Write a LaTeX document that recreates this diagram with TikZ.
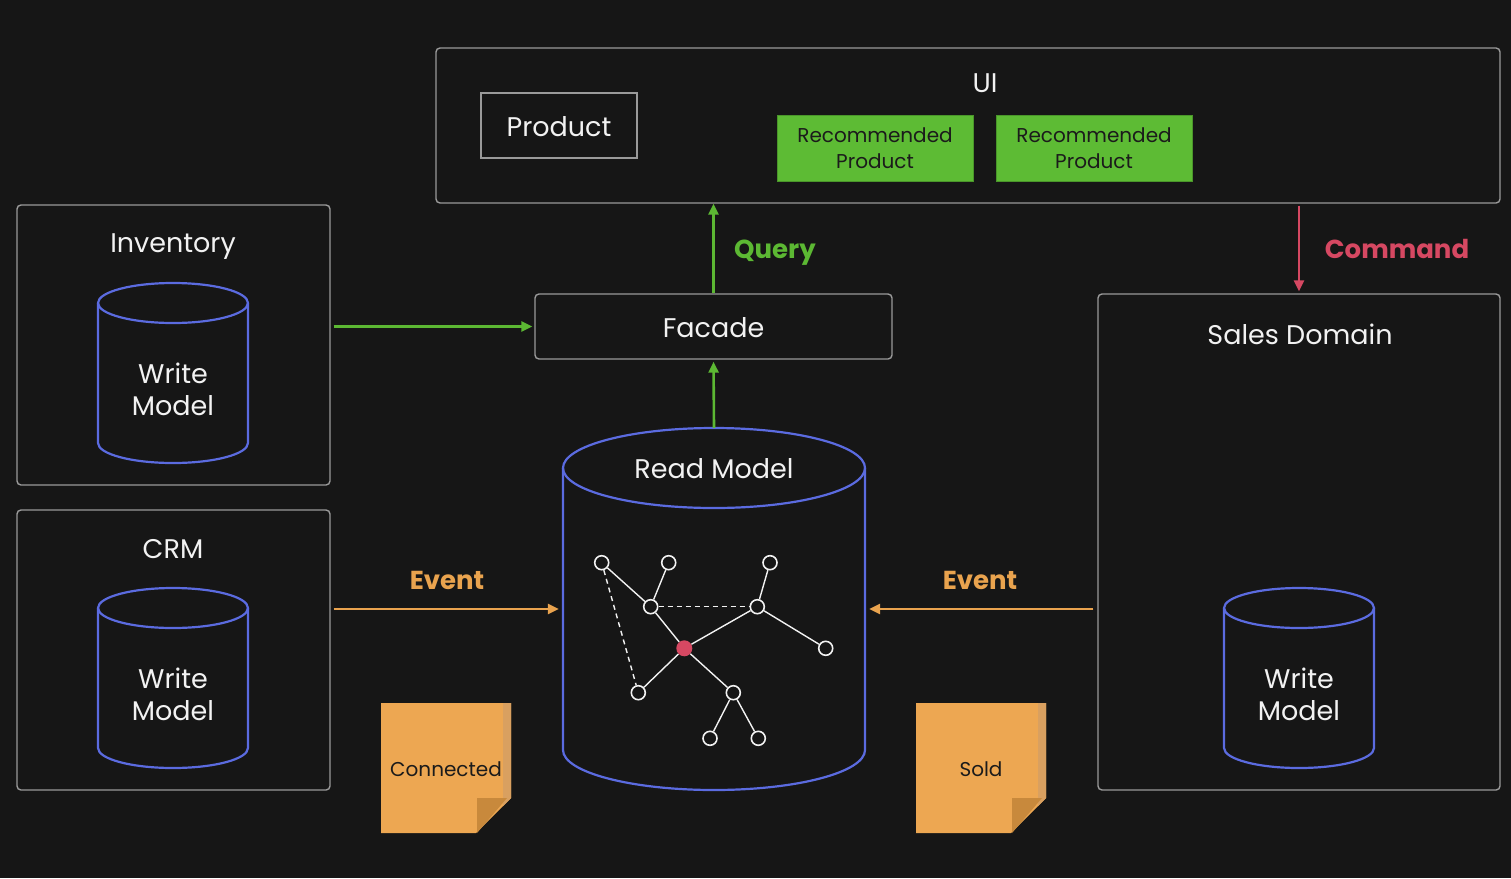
\documentclass[tikz,border=0pt]{standalone}
\usepackage{fontspec}
\setmainfont{Poppins}
\usetikzlibrary{arrows.meta}
\definecolor{bg}{HTML}{161616}
\definecolor{boxline}{HTML}{9A9A9A}
\definecolor{txt}{HTML}{F2F2F2}
\definecolor{cylblue}{HTML}{5B6BE0}
\definecolor{qgreen}{HTML}{5CB833}
\definecolor{rgreen}{HTML}{5DBB34}
\definecolor{cred}{HTML}{D64862}
\definecolor{eorange}{HTML}{E9A34E}
\definecolor{sticky}{HTML}{EDA752}
\definecolor{stickyedge}{HTML}{D9A060}
\definecolor{stickyfold}{HTML}{C8893C}
\definecolor{darktxt}{HTML}{1B1B1B}
\begin{document}
\begin{tikzpicture}[x=1pt,y=-1pt,
  panel/.style={draw=boxline, line width=1.4pt, rounded corners=4pt, inner sep=0pt},
  recbox/.style={fill=rgreen, draw=rgreen!80!black, line width=0.8pt, inner sep=0pt, minimum width=196pt, minimum height=66pt, text=darktxt, align=center, font=\fontsize{20}{26}\selectfont},
  title/.style={text=txt, font=\fontsize{27}{32}\selectfont, align=center, inner sep=0pt},
  cyl/.style={draw=cylblue, line width=2.2pt},
  hidden/.style={inner sep=0pt},
  arr/.style={line width=2.6pt, -{Triangle[length=11pt,width=10pt]}},
  lbl/.style={font=\bfseries\fontsize{26}{32}\selectfont, inner sep=0pt},
  gn/.style={circle, draw=txt, fill=bg, line width=1.6pt, minimum size=14pt, inner sep=0pt},
  ge/.style={draw=txt, line width=1.4pt},
  notetxt/.style={text=darktxt, font=\fontsize{20}{24}\selectfont, inner sep=0pt}
]
\fill[bg] (0,0) rectangle (1511,878);
\useasboundingbox (0,0) rectangle (1511,878);

% UI
\node[panel, minimum width=1064pt, minimum height=155pt] (ui) at (968,125.5) {};
\node[title] (uit) at (985,83) {UI};
\node[panel, rounded corners=0pt, minimum width=156pt, minimum height=65pt] (prod) at (559,125.5) {};
\node[title] (prodt) at (559,127) {Product};
\node[recbox] (rec1) at (875,148) {Recommended\\Product};
\node[recbox] (rec2) at (1094,148) {Recommended\\Product};

% Inventory
\node[panel, minimum width=313pt, minimum height=280pt] (inv) at (173.5,345) {};
\node[title] (invt) at (173,247) {Inventory};
\draw[cyl] (98,303) -- (98,443) arc[start angle=180, end angle=360, x radius=75pt, y radius=20pt] -- (248,303);
\draw[cyl] (173,303) ellipse [x radius=75pt, y radius=20pt];
\node[title] (invw) at (173,389) {Write\\Model};

% CRM
\node[panel, minimum width=313pt, minimum height=280pt] (crm) at (173.5,650) {};
\node[title] (crmt) at (173,549) {CRM};
\draw[cyl] (98,608) -- (98,748) arc[start angle=180, end angle=360, x radius=75pt, y radius=20pt] -- (248,608);
\draw[cyl] (173,608) ellipse [x radius=75pt, y radius=20pt];
\node[title] (crmw) at (173,694) {Write\\Model};

% Facade
\node[panel, minimum width=357pt, minimum height=65pt] (fac) at (713.5,326.5) {};
\node[title] (fact) at (713.5,328) {Facade};

% Sales Domain
\node[panel, minimum width=402pt, minimum height=496pt] (sales) at (1299,542) {};
\node[title] (salest) at (1300,334) {Sales Domain};
\draw[cyl] (1224,608) -- (1224,748) arc[start angle=180, end angle=360, x radius=75pt, y radius=20pt] -- (1374,608);
\draw[cyl] (1299,608) ellipse [x radius=75pt, y radius=20pt];
\node[title] (salesw) at (1299,694) {Write\\Model};

% Read Model
\node[hidden, minimum width=302pt, minimum height=362pt] (rm) at (714,609) {};
\draw[cyl] (563,468) -- (563,750) arc[start angle=180, end angle=360, x radius=151pt, y radius=40pt] -- (865,468);
\draw[cyl] (714,468) ellipse [x radius=151pt, y radius=40pt];
\node[title] (rmt) at (714,469) {Read Model};

% graph
\node[gn] (g1) at (601.7,562.7) {};
\node[gn] (g2) at (668.7,562.7) {};
\node[gn] (g3) at (770,562.7) {};
\node[gn] (g4) at (650.7,606.7) {};
\node[gn] (g5) at (757.3,606.7) {};
\node[circle, fill=cred, minimum size=16pt, inner sep=0pt] (gc) at (684.3,648.3) {};
\node[gn] (g6) at (825.7,648.3) {};
\node[gn] (g7) at (638.3,692.7) {};
\node[gn] (g8) at (733.3,692.7) {};
\node[gn] (g9) at (710,738.3) {};
\node[gn] (g10) at (758.3,738.3) {};
\draw[ge] (g1) -- (g4);
\draw[ge] (g2) -- (g4);
\draw[ge] (g4) -- (gc);
\draw[ge, dash pattern=on 5pt off 4pt] (g4) -- (g5);
\draw[ge, dash pattern=on 5pt off 4pt] (g1) -- (g7);
\draw[ge] (g3) -- (g5);
\draw[ge] (g5) -- (gc);
\draw[ge] (g5) -- (g6);
\draw[ge] (gc) -- (g7);
\draw[ge] (gc) -- (g8);
\draw[ge] (g8) -- (g9);
\draw[ge] (g8) -- (g10);

% arrows
\draw[arr, qgreen] (fac.north) -- (fac.north |- ui.south);
\node[lbl, text=qgreen] (ql) at (775,253) {Query};
\draw[arr, qgreen] (rm.north) -- ([yshift=-2pt]fac.south);
\draw[arr, qgreen] ([xshift=3pt]inv.east |- fac.west) -- ([xshift=-2pt]fac.west);
\draw[arr, cred] ([yshift=-2pt]ui.south -| sales.north) -- ([yshift=2pt]sales.north);
\node[lbl, text=cred] (cl) at (1397,249) {Command};
\draw[arr, eorange] ([xshift=3pt]crm.east |- rm.west) -- ([xshift=-4pt]rm.west);
\node[lbl, text=eorange] (el1) at (447,580) {Event};
\draw[arr, eorange] ([xshift=-4pt]sales.west |- rm.east) -- ([xshift=4pt]rm.east);
\node[lbl, text=eorange] (el2) at (980,580) {Event};

% sticky notes
\fill[sticky] (381,703) -- (511,703) -- (511,798) -- (476,833) -- (381,833) -- cycle;
\fill[stickyedge] (503,703) -- (511,703) -- (511,798) -- (503,806) -- cycle;
\fill[stickyfold] (477,798) -- (507,798) -- (477,833) -- cycle;
\node[notetxt] (n1) at (446,769) {Connected};

\fill[sticky] (916,703) -- (1046,703) -- (1046,798) -- (1011,833) -- (916,833) -- cycle;
\fill[stickyedge] (1038,703) -- (1046,703) -- (1046,798) -- (1038,806) -- cycle;
\fill[stickyfold] (1012,798) -- (1042,798) -- (1012,833) -- cycle;
\node[notetxt] (n2) at (981,769) {Sold};
\end{tikzpicture}
\end{document}
